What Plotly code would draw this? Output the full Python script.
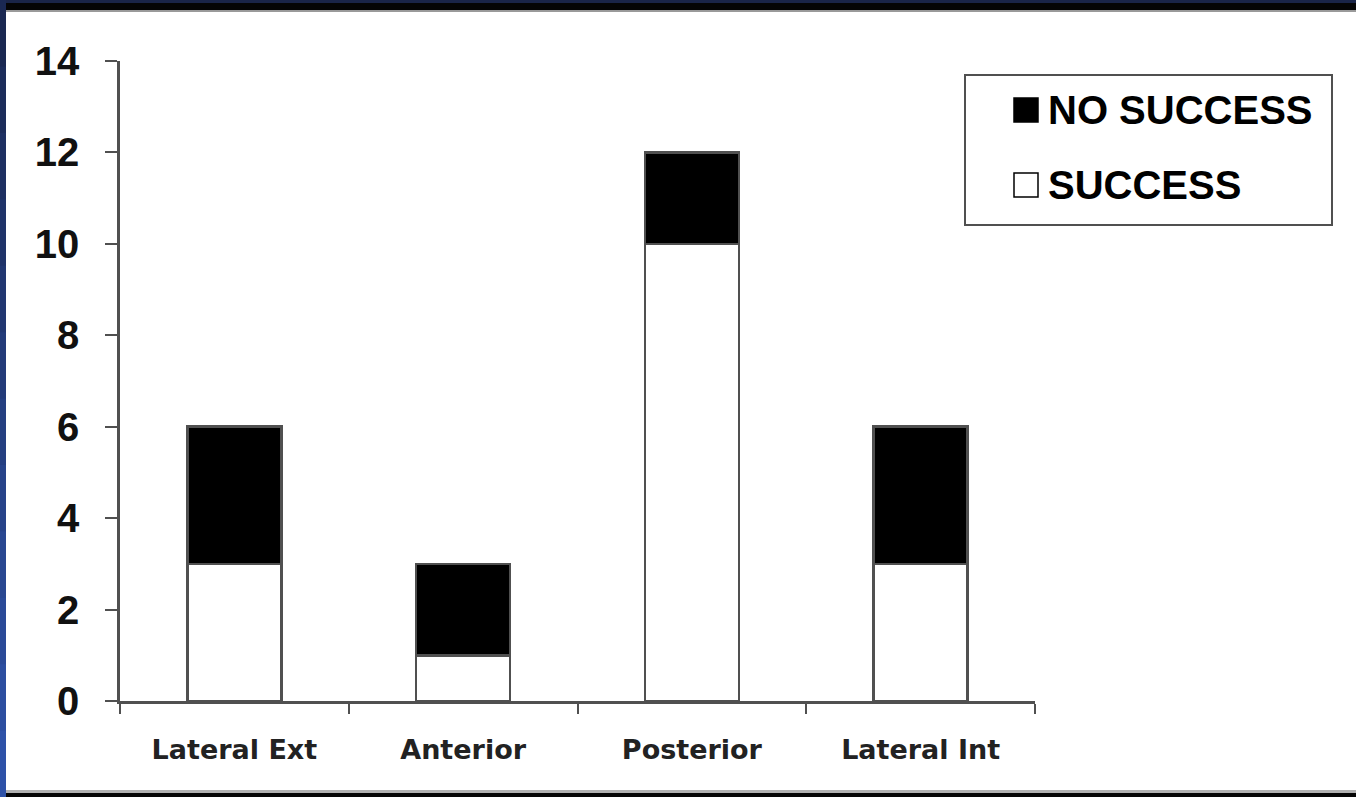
import plotly.graph_objects as go

# Data
categories = ["Lateral Ext", "Anterior", "Posterior", "Lateral Int"]
success = [3, 1, 10, 3]
no_success = [3, 2, 2, 3]
series_names = ["NO SUCCESS", "SUCCESS"]
y_ticks = [0, 2, 4, 6, 8, 10, 12, 14]

W, H = 1356, 797
L, R, T, B = 120, 321, 61, 96
PW, PH = W - L - R, H - T - B

def px(x):
    return (x - L) / PW

def py(y):
    return (H - B - y) / PH

OUTLINE = "#505050"

fig = go.Figure()
fig.add_trace(go.Bar(
    x=categories, y=success, name=series_names[1],
    marker=dict(color="white", line=dict(color=OUTLINE, width=2.5)),
))
fig.add_trace(go.Bar(
    x=categories, y=no_success, name=series_names[0],
    marker=dict(color="black", line=dict(color=OUTLINE, width=2.5)),
))

shapes = []
annotations = []

# page frame: dark band at top, blue strip at left, dark band at bottom
def rect(x0, y0, x1, y1, color, line=None, width=0):
    return dict(type="rect", xref="paper", yref="paper",
                x0=px(x0), x1=px(x1), y0=py(y0), y1=py(y1),
                fillcolor=color, line=dict(width=width, color=line or color),
                layer="above")

shapes.append(rect(0, 0, W, 3, "#1a2548"))
shapes.append(rect(0, 3, W, 10, "#050505"))
shapes.append(rect(0, 10, W, 12, "#9a9a9a"))
shapes.append(rect(0, 793, W, H, "#050505"))
shapes.append(rect(0, 790, W, 793, "#b0b0b0"))

n_seg = 12
c_top = (26, 40, 82)
c_bot = (46, 82, 168)
for i in range(n_seg):
    t = i / (n_seg - 1)
    c = tuple(int(round(a + (b - a) * t)) for a, b in zip(c_top, c_bot))
    y0 = H * i / n_seg
    y1 = H * (i + 1) / n_seg + 1
    shapes.append(rect(0, y0, 6, y1, "rgb(%d,%d,%d)" % c))

# legend box
legend_font = dict(family="Liberation Sans, Arial, sans-serif", size=40,
                   color="black", weight="bold")
shapes.append(dict(type="rect", xref="paper", yref="paper",
                   x0=px(965), x1=px(1332), y0=py(75), y1=py(225),
                   fillcolor="white", line=dict(color=OUTLINE, width=2)))
legend_rows = [(series_names[0], "black", 110), (series_names[1], "white", 185)]
for name, fill, cy in legend_rows:
    shapes.append(dict(type="rect", xref="paper", yref="paper",
                       x0=px(1014), x1=px(1038), y0=py(cy - 12), y1=py(cy + 12),
                       fillcolor=fill, line=dict(color="black", width=1.5)))
    annotations.append(dict(xref="paper", yref="paper", x=px(1046), y=py(cy),
                            xanchor="left", yanchor="middle", text=name,
                            showarrow=False, font=legend_font))

fig.update_layout(
    barmode="stack",
    bargap=0.59,
    width=W, height=H,
    margin=dict(l=L, r=R, t=T, b=B, pad=0),
    paper_bgcolor="white",
    plot_bgcolor="white",
    showlegend=False,
    shapes=shapes,
    annotations=annotations,
    xaxis=dict(
        type="category",
        showline=True, linecolor=OUTLINE, linewidth=2.5,
        ticks="outside", tickson="boundaries", ticklen=10,
        tickcolor=OUTLINE, tickwidth=2,
        showgrid=False, zeroline=False,
        tickfont=dict(family="DejaVu Sans, Verdana, sans-serif", size=27,
                      color="#222", weight="bold"),
        ticklabelstandoff=23,
    ),
    yaxis=dict(
        range=[0, 14],
        tickvals=y_ticks,
        showline=True, linecolor=OUTLINE, linewidth=2.5,
        ticks="outside", ticklen=12, tickcolor=OUTLINE, tickwidth=2,
        showgrid=False, zeroline=False,
        tickfont=dict(family="Liberation Sans, Arial, sans-serif", size=40,
                      color="#111", weight="bold"),
        ticklabelstandoff=18,
    ),
)

fig.write_html("out.html")
